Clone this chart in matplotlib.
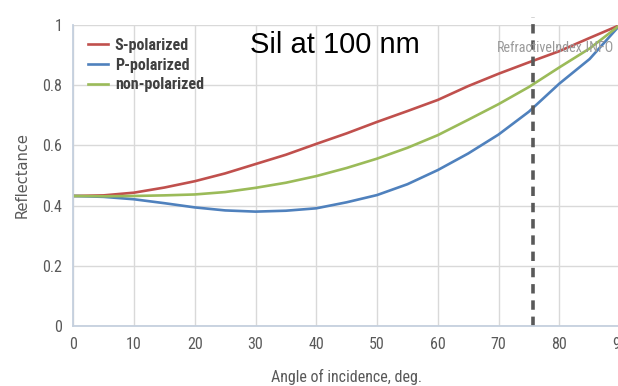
import matplotlib
matplotlib.use('Agg')
import matplotlib.pyplot as plt
from matplotlib import font_manager

# values (Si at 100 nm)
angles = [0, 5, 10, 15, 20, 25, 30, 35, 40, 45, 50, 55, 60, 65, 70, 75, 80, 85, 90]
r_s = [0.432, 0.434, 0.443, 0.460, 0.481, 0.507, 0.538, 0.569, 0.605, 0.640,
       0.678, 0.714, 0.751, 0.797, 0.838, 0.876, 0.913, 0.957, 1.0]
r_p = [0.432, 0.429, 0.421, 0.408, 0.394, 0.384, 0.380, 0.383, 0.391, 0.411,
       0.435, 0.471, 0.518, 0.573, 0.636, 0.712, 0.805, 0.887, 1.0]
r_n = [0.432, 0.431, 0.432, 0.434, 0.437, 0.445, 0.459, 0.476, 0.498, 0.525,
       0.556, 0.592, 0.634, 0.685, 0.737, 0.794, 0.859, 0.922, 1.0]
brewster = 75.7
xticks = list(range(0, 100, 10))
yticks = [0, 0.2, 0.4, 0.6, 0.8, 1]
ytick_labels = ['0', '0.2', '0.4', '0.6', '0.8', '1']

names = {f.name for f in font_manager.fontManager.ttflist}
narrow = 'DejaVu Sans'
for cand in ['Liberation Sans Narrow', 'Roboto Condensed', 'Open Sans Condensed', 'DejaVu Sans Condensed']:
    if cand in names:
        narrow = cand
        break
gray = '#595959'

fig = plt.figure(figsize=(6.18, 3.86), dpi=100)
ax = fig.add_axes([73.3 / 618, 60 / 386, 546.7 / 618, 301 / 386])

ax.plot(angles, r_s, color='#c0504d', lw=1.9, label='S-polarized')
ax.plot(angles, r_p, color='#4f81bd', lw=1.9, label='P-polarized')
ax.plot(angles, r_n, color='#9bbb59', lw=1.9, label='non-polarized')
ax.plot([brewster, brewster], [0, 1.025], color='#595959', lw=2.6,
        dashes=(2.6, 1.9), clip_on=False)

ax.set_xlim(0, 90)
ax.set_ylim(0, 1)
ax.set_xticks(xticks)
ax.set_yticks(yticks)
ax.set_yticklabels(ytick_labels)
ax.grid(True, color='#d9d9d9', lw=1)
ax.set_axisbelow(True)
for s in ['top', 'right']:
    ax.spines[s].set_visible(False)
for s in ['left', 'bottom']:
    ax.spines[s].set_color('#c5d0de')
    ax.spines[s].set_linewidth(1.3)
ax.tick_params(length=0, pad=8, colors=gray, labelsize=11.5)
for lab in ax.get_xticklabels() + ax.get_yticklabels():
    lab.set_family(narrow)
    lab.set_stretch('condensed')

ax.set_xlabel('Angle of incidence, deg.', family=narrow, stretch='condensed',
              fontsize=11.5, color=gray, labelpad=12)
ax.set_ylabel('Reflectance', family='DejaVu Sans', fontsize=10.5, color=gray, labelpad=9)

leg = ax.legend(loc='upper left', bbox_to_anchor=(0.0, 1.005), frameon=False,
                prop={'family': narrow, 'size': 11.5, 'weight': 'bold', 'stretch': 'condensed'},
                handlelength=1.3, handletextpad=0.4, labelspacing=0.3)
for t in leg.get_texts():
    t.set_color('#404040')

fig.text(250 / 618, 1 - 45 / 386, 'Sil at 100 nm', fontsize=21, family='Liberation Sans',
         va='center', ha='left', color='black')
fig.text(497 / 618, 1 - 48 / 386, 'RefractiveIndex.INFO', fontsize=10.2, family=narrow,
         stretch='condensed', va='center', ha='left', color='#9a9a9a')

fig.savefig('out.png', dpi=100)
